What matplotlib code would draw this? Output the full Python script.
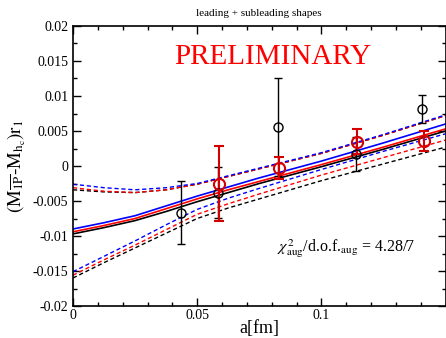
import numpy as np
import matplotlib
matplotlib.use("Agg")
import matplotlib.pyplot as plt
from matplotlib.ticker import MultipleLocator

plt.rcParams['font.family'] = ['Liberation Serif', 'DejaVu Serif']
plt.rcParams['mathtext.fontset'] = 'stix'

# data points (lattice spacing a [fm])
a_black = [0.0434, 0.0583, 0.0825, 0.1140, 0.1407]
y_black = [-0.0067, -0.0038, 0.0056, 0.0017, 0.0081]
e_black = [0.0045, 0.0036, 0.0070, 0.0024, 0.0020]

a_red = [0.0588, 0.0829, 0.1142, 0.1414]
y_red = [-0.0025, -0.0003, 0.0035, 0.0036]
e_red = [0.0053, 0.0016, 0.00175, 0.00145]

# fit curves
a_fit = [0, 0.0125, 0.025, 0.0375, 0.05, 0.0625, 0.075, 0.1, 0.125, 0.15]
fit_blue = [-0.0090, -0.0081, -0.0071, -0.0057, -0.0043, -0.0030, -0.0017, 0.0007, 0.0033, 0.0060]
fit_red = [-0.0094, -0.0085, -0.0075, -0.0061, -0.0047, -0.0034, -0.0022, 0.0002, 0.0027, 0.0053]
fit_black = [-0.0097, -0.0088, -0.0078, -0.0065, -0.0051, -0.0038, -0.0025, -0.0001, 0.0024, 0.0050]

up_blue = [-0.0026, -0.0031, -0.0034, -0.0031, -0.0025, -0.0014, -0.0003, 0.0019, 0.0045, 0.0073]
up_red = [-0.0031, -0.0036, -0.0038, -0.0034, -0.0026, -0.0015, -0.0004, 0.0018, 0.0044, 0.0072]
up_black = [-0.0034, -0.0037, -0.0038, -0.0034, -0.0026, -0.0015, -0.0004, 0.0018, 0.0044, 0.0072]

lo_blue = [-0.0151, -0.0129, -0.0107, -0.0084, -0.0062, -0.0046, -0.0032, -0.0005, 0.0021, 0.0046]
lo_red = [-0.0156, -0.0134, -0.0113, -0.0091, -0.0069, -0.0054, -0.0040, -0.0013, 0.0012, 0.0037]
lo_black = [-0.0160, -0.0138, -0.0117, -0.0096, -0.0075, -0.0060, -0.0047, -0.0021, 0.0003, 0.0027]

fig = plt.figure(figsize=(4.46, 3.38), dpi=100)
ax = fig.add_axes([73/446, 32/338, 372.5/446, 280/338])

dash = (0, (3, 2))
for up, lo, fit, c in [(up_black, lo_black, fit_black, 'black'),
                       (up_red, lo_red, fit_red, 'red'),
                       (up_blue, lo_blue, fit_blue, 'blue')]:
    ax.plot(a_fit, fit, color=c, lw=1.2)
    ax.plot(a_fit, up, color=c, lw=1.0, linestyle=dash)
    ax.plot(a_fit, lo, color=c, lw=1.0, linestyle=dash)

ax.errorbar(a_black, y_black, yerr=e_black, fmt='o', mfc='none', mec='black',
            ecolor='black', ms=6.5, mew=1.0, elinewidth=1.0, capsize=3, capthick=1.0)
ax.errorbar(a_red, y_red, yerr=e_red, fmt='o', mfc='none', mec='#d40000',
            ecolor='#d40000', ms=8, mew=1.5, elinewidth=1.5, capsize=3.5, capthick=1.5)

ax.set_xlim(0, 0.15)
ax.set_ylim(-0.02, 0.02)
ax.set_xticks([0, 0.05, 0.1])
ax.set_xticklabels(['0', '0.05', '0.1'])
yt = [-0.02, -0.015, -0.01, -0.005, 0, 0.005, 0.01, 0.015, 0.02]
ax.set_yticks(yt)
ax.set_yticklabels(['-0.02', '-0.015', '-0.01', '-0.005', '0', '0.005', '0.01', '0.015', '0.02'])
ax.xaxis.set_minor_locator(MultipleLocator(0.01))
ax.yaxis.set_minor_locator(MultipleLocator(0.0025))
ax.tick_params(which='both', direction='in', top=True, right=True, labelsize=10)
ax.tick_params(which='major', length=6, width=1)
ax.tick_params(which='minor', length=3, width=1)
ax.tick_params(axis='x', pad=2)
for s in ax.spines.values():
    s.set_linewidth(1.2)

ax.set_xlabel('a[fm]', fontsize=13, labelpad=-1)
ax.set_ylabel(r'$(\mathrm{M}_{\overline{\mathrm{1P}}}$-$\mathrm{M}_{\mathrm{h}_\mathrm{c}})\mathrm{r}_1$',
              fontsize=13.5, labelpad=3)
ax.set_title('leading + subleading shapes', fontsize=8, pad=7)

ax.text(0.0805, 0.0155, 'PRELIMINARY', color='red', fontsize=21, ha='center', va='center')
ax.text(0.0822, -0.0118, r'$\chi^2_{\mathrm{aug}}$/d.o.f.$_{\mathrm{aug}}$ = 4.28/7',
        fontsize=11.5, ha='left', va='center')

fig.savefig('out.png', dpi=100)
